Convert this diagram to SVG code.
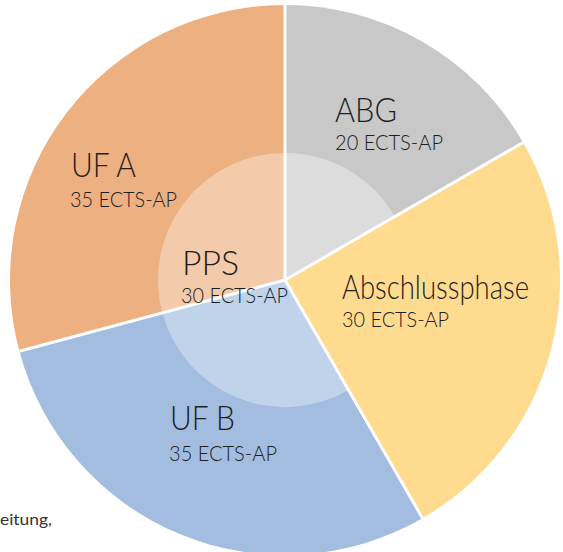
<svg xmlns="http://www.w3.org/2000/svg" width="563" height="552" viewBox="0 0 563 552">
<style>
.t{font-family:"Source Sans Pro","Lato","Liberation Sans",sans-serif;font-weight:300;fill:#1e1e1e;font-size:34px}
.s{font-family:"Source Sans Pro","Lato","Liberation Sans",sans-serif;font-weight:300;fill:#1e1e1e;font-size:22px}
.sep{stroke:#fff;stroke-width:3;fill:none}
</style>
<rect width="563" height="552" fill="#fff"/>
<g id="abg">
<path d="M285,280 L285,5 A275,275 0 0 1 523.16,142.5 Z" fill="#c8c8c8"/>
<path d="M285,280 L285,153 A127,127 0 0 1 394.99,216.5 Z" fill="#dcdcdc"/>
<text class="t" x="335" y="122" textLength="62" lengthAdjust="spacingAndGlyphs">ABG</text>
<text class="s" x="335" y="150" textLength="108" lengthAdjust="spacingAndGlyphs">20 ECTS-AP</text>
</g>
<g id="abschlussphase">
<path d="M285,280 L523.16,142.5 A275,275 0 0 1 422.5,518.16 Z" fill="#fedb8f"/>
</g>
<g id="ufb">
<path d="M285,280 L422.5,518.16 A275,275 0 0 1 19.37,351.18 Z" fill="#a2bde0"/>
<path d="M285,280 L348.5,389.99 A127,127 0 0 1 162.33,312.87 Z" fill="#c0d3eb"/>
</g>
<g id="ufa">
<path d="M285,280 L19.37,351.18 A275,275 0 0 1 285,5 Z" fill="#edb081"/>
<path d="M285,280 L162.33,312.87 A127,127 0 0 1 285,153 Z" fill="#f4cbaa"/>
</g>
<g id="separators">
<line class="sep" x1="285" y1="280" x2="285" y2="5"/>
<line class="sep" x1="285" y1="280" x2="523.16" y2="142.5"/>
<line class="sep" x1="285" y1="280" x2="422.5" y2="518.16"/>
<line class="sep" x1="285" y1="280" x2="19.37" y2="351.18"/>
</g>
<g id="labels">
<text class="t" x="342" y="299" textLength="187" lengthAdjust="spacingAndGlyphs">Abschlussphase</text>
<text class="s" x="342" y="327" textLength="107" lengthAdjust="spacingAndGlyphs">30 ECTS-AP</text>
<text class="t" x="170" y="430" textLength="65" lengthAdjust="spacingAndGlyphs">UF B</text>
<text class="s" x="169" y="461" textLength="108" lengthAdjust="spacingAndGlyphs">35 ECTS-AP</text>
<text class="t" x="71" y="177" textLength="65" lengthAdjust="spacingAndGlyphs">UF A</text>
<text class="s" x="70" y="207" textLength="107" lengthAdjust="spacingAndGlyphs">35 ECTS-AP</text>
</g>
<g id="pps">
<text class="t" x="182" y="275" textLength="57" lengthAdjust="spacingAndGlyphs">PPS</text>
<text class="s" x="181" y="303" textLength="107" lengthAdjust="spacingAndGlyphs">30 ECTS-AP</text>
</g>
<text x="0" y="525" font-family="Source Sans Pro, Lato, Liberation Sans, sans-serif" font-size="15" fill="#333" textLength="52" lengthAdjust="spacingAndGlyphs">eitung,</text>
</svg>
